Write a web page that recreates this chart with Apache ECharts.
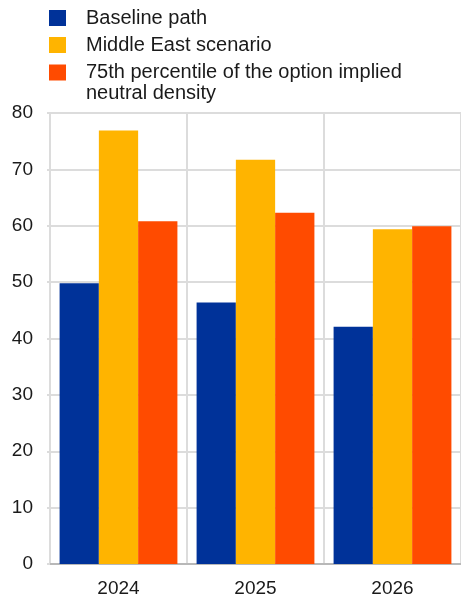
<!DOCTYPE html>
<html>
<head>
<meta charset="utf-8">
<script src="https://cdn.jsdelivr.net/npm/echarts@6/dist/echarts.min.js"></script>
<style>
  html, body { margin: 0; padding: 0; background: #fff; }
  #chart { width: 461px; height: 598px; }
</style>
</head>
<body>
<div id="chart"></div>
<script>
// Years on the horizontal axis
const years = ['2024', '2025', '2026'];

// Series names
const nameBaseline = 'Baseline path';
const nameMiddleEast = 'Middle East scenario';
const namePercentile = '75th percentile of the option implied neutral density';

// Values per year
const baseline = [49.8, 46.4, 42.1];
const middleEast = [76.9, 71.7, 59.4];
const percentile75 = [60.8, 62.3, 59.9];

// Vertical axis range
const yMin = 0;
const yMax = 80;
const yStep = 10;

const colors = ['#003299', '#ffb400', '#ff4b00'];
const font = 'Liberation Sans, Arial, sans-serif';

const chart = echarts.init(document.getElementById('chart'), null, { renderer: 'canvas' });

const legendText = {
  fontFamily: font,
  fontSize: 20,
  lineHeight: 20,
  color: '#1a1a1a',
  padding: [0, 0, 0, 15]
};

chart.setOption({
  animation: false,
  color: colors,
  legend: [
    {
      orient: 'vertical',
      left: 49,
      top: 8,
      padding: 0,
      itemGap: 7,
      itemWidth: 17,
      itemHeight: 16,
      icon: 'rect',
      selectedMode: false,
      textStyle: legendText,
      data: [nameBaseline, nameMiddleEast]
    },
    {
      orient: 'vertical',
      left: 49,
      top: 41,
      padding: 0,
      itemWidth: 17,
      itemHeight: 16,
      icon: 'rect',
      selectedMode: false,
      textStyle: Object.assign({}, legendText, { lineHeight: 21 }),
      // leading empty line keeps the first text line level with the swatch
      formatter: function () {
        return ' \n75th percentile of the option implied\nneutral density';
      },
      data: [namePercentile]
    }
  ],
  grid: {
    left: 50,
    right: 0,
    top: 113,
    bottom: 32,
    containLabel: false
  },
  xAxis: {
    type: 'category',
    data: years,
    boundaryGap: true,
    axisLine: { show: true, lineStyle: { color: '#b8b8b8', width: 2 } },
    axisTick: { show: false },
    splitLine: { show: true, interval: 0, lineStyle: { color: '#dcdcdc', width: 2 } },
    axisLabel: {
      margin: 15,
      fontFamily: font,
      fontSize: 19,
      color: '#1a1a1a'
    }
  },
  yAxis: {
    type: 'value',
    min: yMin,
    max: yMax,
    interval: yStep,
    axisLine: { show: true, lineStyle: { color: '#dcdcdc', width: 2 } },
    axisTick: { show: true, length: 3, lineStyle: { color: '#dcdcdc', width: 2 } },
    splitLine: { show: true, lineStyle: { color: '#dcdcdc', width: 2 } },
    axisLabel: {
      margin: 17,
      fontFamily: font,
      fontSize: 19,
      color: '#1a1a1a'
    }
  },
  series: [
    { name: nameBaseline, type: 'bar', data: baseline, barGap: '0%', barCategoryGap: '14%' },
    { name: nameMiddleEast, type: 'bar', data: middleEast, barGap: '0%', barCategoryGap: '14%' },
    { name: namePercentile, type: 'bar', data: percentile75, barGap: '0%', barCategoryGap: '14%' }
  ]
});
</script>
</body>
</html>
